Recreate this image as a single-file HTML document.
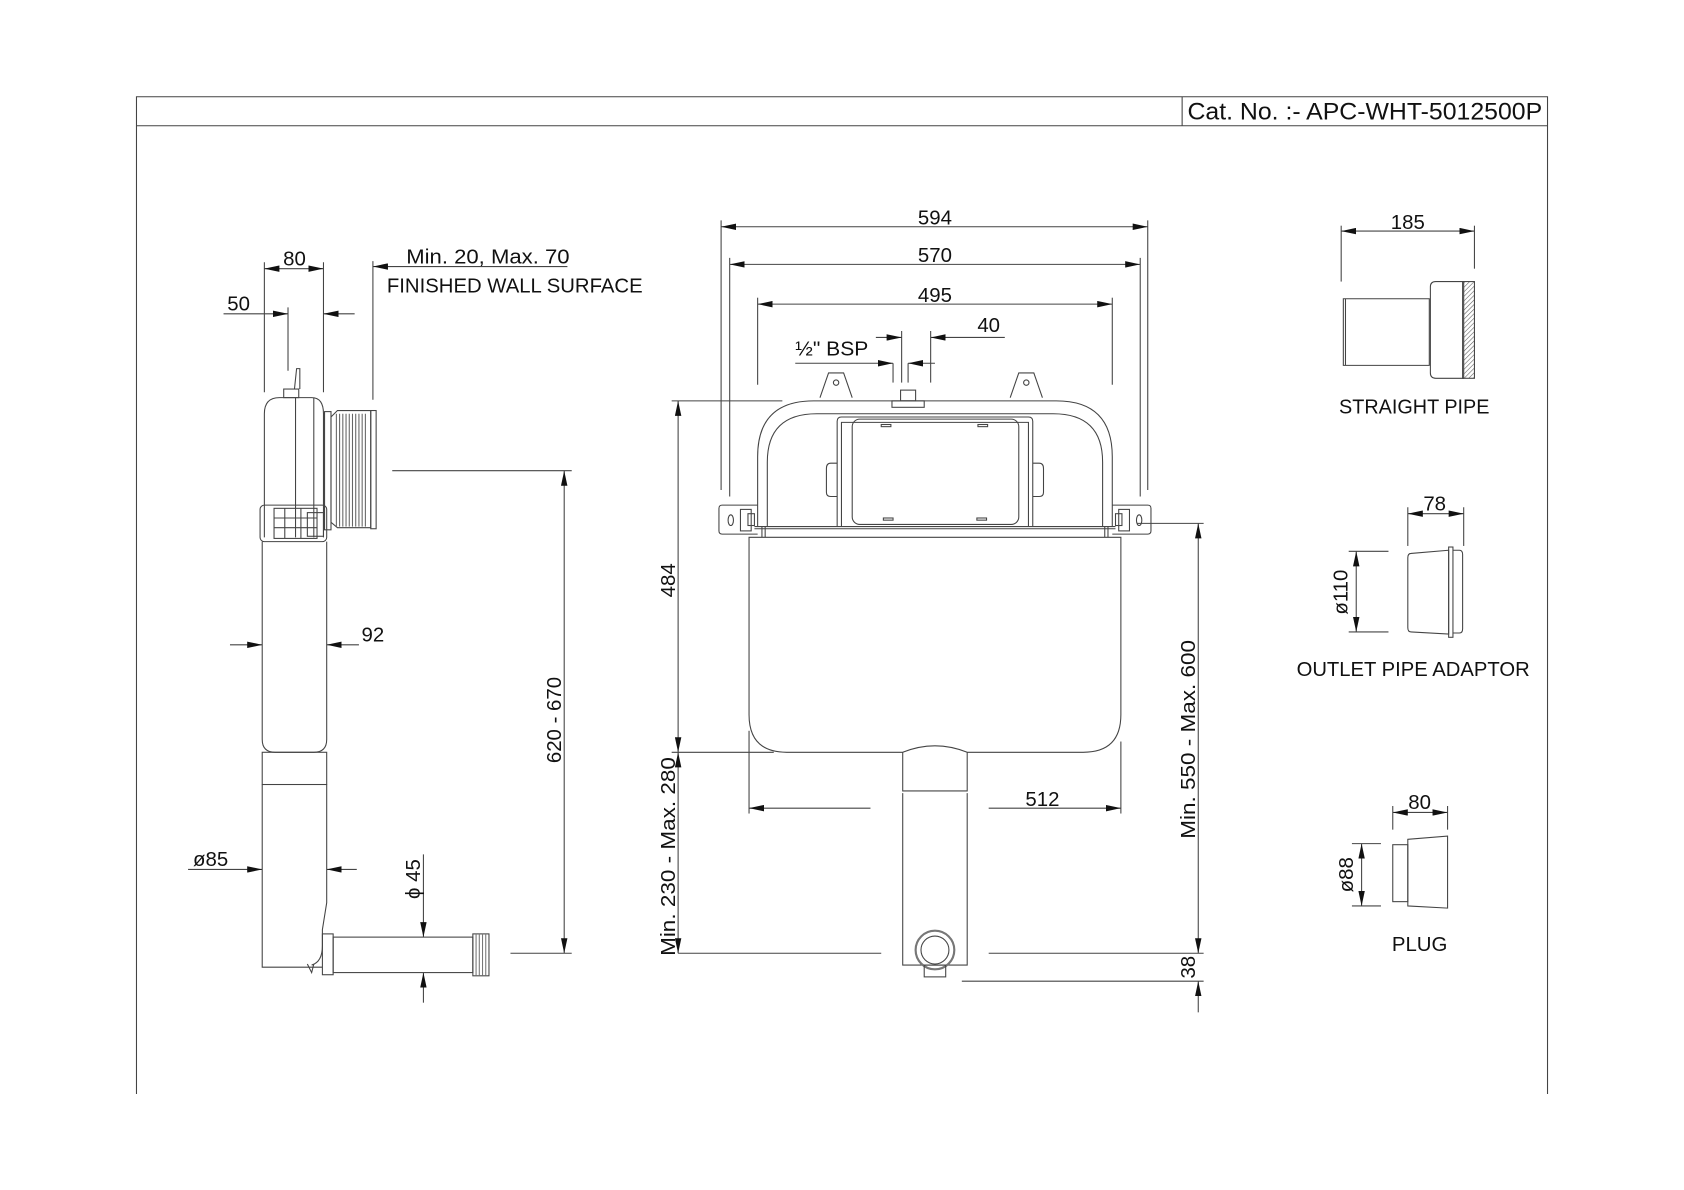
<!DOCTYPE html>
<html><head><meta charset="utf-8"><style>
html,body{margin:0;padding:0;background:#fff;}
svg{display:block;}
text{font-family:"Liberation Sans",sans-serif;fill:#111;}
</style></head><body>
<svg width="1684" height="1190" viewBox="0 0 1567 1107.3" xmlns="http://www.w3.org/2000/svg">
<defs>
<marker id="a" viewBox="0 0 14 6" refX="14" refY="3" markerWidth="14" markerHeight="6" markerUnits="userSpaceOnUse" orient="auto-start-reverse"><path d="M0,0 L14,3 L0,6 z" fill="#111"/></marker>
<pattern id="h" width="3" height="3" patternUnits="userSpaceOnUse" patternTransform="rotate(45)"><line x1="0" y1="0" x2="0" y2="3" stroke="#555" stroke-width="1"/></pattern>
</defs>
<g fill="none" stroke="#444" stroke-width="1">
<path d="M127,1018 V90 H1440 V1018"/>
<line x1="127" y1="117" x2="1440" y2="117"/>
<line x1="1100" y1="90" x2="1100" y2="117"/>

<line x1="246" y1="244" x2="246" y2="365"/>
<line x1="301" y1="244" x2="301" y2="365"/>
<line x1="268" y1="286" x2="268" y2="345"/>
<line x1="347" y1="243" x2="347" y2="372"/>
<line x1="246" y1="250" x2="301" y2="250" marker-start="url(#a)" marker-end="url(#a)"/>
<line x1="208" y1="292" x2="268" y2="292" marker-end="url(#a)"/>
<line x1="330" y1="292" x2="301" y2="292" marker-end="url(#a)"/>
<line x1="528" y1="248" x2="347" y2="248" marker-end="url(#a)"/>
<path d="M246,500 V385 Q246,370 260,370 H290 Q301,370 301,385 V500"/>
<line x1="275" y1="370" x2="275" y2="500"/>
<line x1="292" y1="370" x2="292" y2="500"/>
<rect x="264" y="362" width="14" height="8"/>
<path d="M274,362 L276,343 L279,343 L279,362"/>
<rect x="302" y="383" width="6" height="110"/>
<path d="M308,388 L314,382 H345 V491 H314 L308,486 z"/>
<g stroke="#666">
<line x1="313" y1="385" x2="313" y2="490"/><line x1="316" y1="385" x2="316" y2="490"/><line x1="319" y1="385" x2="319" y2="490"/><line x1="322" y1="385" x2="322" y2="490"/><line x1="325" y1="385" x2="325" y2="490"/><line x1="328" y1="385" x2="328" y2="490"/><line x1="331" y1="385" x2="331" y2="490"/><line x1="334" y1="385" x2="334" y2="490"/><line x1="337" y1="385" x2="337" y2="490"/><line x1="340" y1="385" x2="340" y2="490"/>
</g>
<rect x="345" y="382" width="5" height="110"/>
<rect x="242" y="470" width="62" height="34" rx="4"/>
<rect x="255" y="473" width="40" height="28"/>
<line x1="255" y1="482" x2="295" y2="482"/><line x1="255" y1="491" x2="295" y2="491"/>
<line x1="265" y1="473" x2="265" y2="501"/><line x1="280" y1="473" x2="280" y2="501"/>
<rect x="286" y="477" width="15" height="22"/>
<path d="M244,504 V688 Q244,700 256,700 H292 Q304,700 304,688 V504"/>
<rect x="244" y="700" width="60" height="30"/>
<path d="M244,730 V900 H300"/>
<path d="M304,730 V840 L300,865 V880 Q300,895 290,898"/>
<path d="M286,897 L290,905 L292,897"/>
<rect x="300" y="869" width="10" height="38"/>
<rect x="310" y="872" width="130" height="33"/>
<rect x="440" y="869" width="15" height="39"/>
<g stroke="#777"><line x1="443" y1="869" x2="443" y2="908"/><line x1="446" y1="869" x2="446" y2="908"/><line x1="449" y1="869" x2="449" y2="908"/><line x1="452" y1="869" x2="452" y2="908"/></g>
<line x1="214" y1="600" x2="244" y2="600" marker-end="url(#a)"/>
<line x1="334" y1="600" x2="304" y2="600" marker-end="url(#a)"/>
<line x1="175" y1="809" x2="244" y2="809" marker-end="url(#a)"/>
<line x1="332" y1="809" x2="304" y2="809" marker-end="url(#a)"/>
<line x1="394" y1="795" x2="394" y2="872" marker-end="url(#a)"/>
<line x1="394" y1="933" x2="394" y2="905" marker-end="url(#a)"/>
<line x1="365" y1="438" x2="532" y2="438"/>
<line x1="475" y1="887" x2="532" y2="887"/>
<line x1="525" y1="438" x2="525" y2="887" marker-start="url(#a)" marker-end="url(#a)"/>

<line x1="671" y1="205" x2="671" y2="456"/>
<line x1="1068" y1="205" x2="1068" y2="456"/>
<line x1="679" y1="240" x2="679" y2="462"/>
<line x1="1061" y1="240" x2="1061" y2="462"/>
<line x1="705" y1="277" x2="705" y2="358"/>
<line x1="1035" y1="277" x2="1035" y2="358"/>
<line x1="671" y1="211" x2="1068" y2="211" marker-start="url(#a)" marker-end="url(#a)"/>
<line x1="679" y1="246" x2="1061" y2="246" marker-start="url(#a)" marker-end="url(#a)"/>
<line x1="705" y1="283" x2="1035" y2="283" marker-start="url(#a)" marker-end="url(#a)"/>
<line x1="839" y1="308" x2="839" y2="356"/>
<line x1="866" y1="308" x2="866" y2="356"/>
<line x1="831" y1="338" x2="831" y2="356"/>
<line x1="845" y1="338" x2="845" y2="356"/>
<line x1="815" y1="314" x2="839" y2="314" marker-end="url(#a)"/>
<line x1="935" y1="314" x2="866" y2="314" marker-end="url(#a)"/>
<line x1="740" y1="338" x2="831" y2="338" marker-end="url(#a)"/>
<line x1="870" y1="338" x2="845" y2="338" marker-end="url(#a)"/>
<path d="M763,370 L771,347 H785 L793,370"/>
<circle cx="778" cy="356" r="2.5"/>
<path d="M940,370 L948,347 H962 L970,370"/>
<circle cx="955" cy="356" r="2.5"/>
<rect x="838" y="363" width="14" height="10"/>
<rect x="830" y="373" width="30" height="6"/>
<path d="M705,490 V425 Q705,373 757,373 H983 Q1035,373 1035,425 V490"/>
<path d="M714,490 V430 Q714,385 760,385 H980 Q1026,385 1026,430 V490"/>
<path d="M779,490 V392 Q779,388 783,388 H957 Q961,388 961,392 V490"/>
<path d="M783,490 V393 H957 V490"/>
<rect x="793" y="390" width="155" height="98" rx="7"/>
<rect x="820" y="395" width="9" height="2"/><rect x="910" y="395" width="9" height="2"/>
<rect x="822" y="482" width="9" height="2"/><rect x="909" y="482" width="9" height="2"/>
<path d="M779,431 H773 Q769,431 769,436 V458 Q769,462 773,462 H779"/>
<path d="M961,431 H967 Q971,431 971,436 V458 Q971,462 967,462 H961"/>
<path d="M705,470 H672 Q669,470 669,473 V494 Q669,497 672,497 H705"/>
<ellipse cx="680" cy="484" rx="2.5" ry="5"/>
<rect x="689" y="474" width="10" height="20"/><rect x="696" y="478" width="6" height="11"/>
<path d="M1035,470 H1068 Q1071,470 1071,473 V494 Q1071,497 1068,497 H1035"/>
<ellipse cx="1060" cy="484" rx="2.5" ry="5"/>
<rect x="1041" y="474" width="10" height="20"/><rect x="1038" y="478" width="6" height="11"/>
<path d="M702,490 H1038 M702,492 H1038"/>
<line x1="709" y1="490" x2="709" y2="500"/><line x1="712" y1="490" x2="712" y2="500"/>
<line x1="1028" y1="490" x2="1028" y2="500"/><line x1="1031" y1="490" x2="1031" y2="500"/>
<path d="M697,500 H1043 V665 Q1043,700 1008,700 H900 Q885,694 870,694 Q855,694 840,700 H732 Q697,700 697,665 Z"/>
<path d="M840,700 V736 H900 V700"/>
<path d="M840,738 V898 H900 V738"/>
<circle cx="870" cy="884" r="18" stroke="#777" stroke-width="2"/>
<circle cx="870" cy="884" r="13"/>
<rect x="860" y="898" width="20" height="11"/>
<line x1="625" y1="373" x2="728" y2="373"/>
<line x1="631" y1="373" x2="631" y2="700" marker-start="url(#a)" marker-end="url(#a)"/>
<line x1="625" y1="700" x2="720" y2="700"/>
<line x1="631" y1="700" x2="631" y2="887" marker-start="url(#a)" marker-end="url(#a)"/>
<line x1="631" y1="887" x2="820" y2="887"/>
<line x1="697" y1="680" x2="697" y2="757"/>
<line x1="1043" y1="690" x2="1043" y2="757"/>
<line x1="810" y1="752" x2="697" y2="752" marker-end="url(#a)"/>
<line x1="920" y1="752" x2="1043" y2="752" marker-end="url(#a)"/>
<line x1="1058" y1="487" x2="1120" y2="487"/>
<line x1="1115" y1="487" x2="1115" y2="887" marker-start="url(#a)" marker-end="url(#a)"/>
<line x1="920" y1="887" x2="1120" y2="887"/>
<line x1="895" y1="913" x2="1120" y2="913"/>
<line x1="1115" y1="942" x2="1115" y2="913" marker-end="url(#a)"/>

<line x1="1248" y1="210" x2="1248" y2="262"/>
<line x1="1372" y1="210" x2="1372" y2="250"/>
<line x1="1248" y1="215" x2="1372" y2="215" marker-start="url(#a)" marker-end="url(#a)"/>
<path d="M1250,278 H1330 V340 H1250 Z"/>
<line x1="1252" y1="278" x2="1252" y2="340"/>
<path d="M1331,278 V267 Q1331,262 1336,262 H1362 V352 H1336 Q1331,352 1331,347 Z"/>
<rect x="1361" y="262" width="11" height="90" fill="url(#h)"/>
<line x1="1310" y1="472" x2="1310" y2="508"/>
<line x1="1362" y1="472" x2="1362" y2="508"/>
<line x1="1310" y1="478" x2="1362" y2="478" marker-start="url(#a)" marker-end="url(#a)"/>
<path d="M1348,512 L1313,515 Q1310,515 1310,519 V584 Q1310,588 1313,588 L1348,590 Z"/>
<rect x="1348" y="509" width="4" height="84"/>
<path d="M1352,512 H1358 Q1361,512 1361,516 V585 Q1361,589 1358,589 H1352"/>
<line x1="1255" y1="513" x2="1292" y2="513"/>
<line x1="1255" y1="588" x2="1292" y2="588"/>
<line x1="1262" y1="513" x2="1262" y2="588" marker-start="url(#a)" marker-end="url(#a)"/>
<line x1="1296" y1="750" x2="1296" y2="772"/>
<line x1="1347" y1="750" x2="1347" y2="772"/>
<line x1="1296" y1="756" x2="1347" y2="756" marker-start="url(#a)" marker-end="url(#a)"/>
<rect x="1296" y="786" width="14" height="53"/>
<path d="M1310,781 L1347,778 V845 L1310,843 Z"/>
<line x1="1258" y1="785" x2="1285" y2="785"/>
<line x1="1258" y1="843" x2="1285" y2="843"/>
<line x1="1267" y1="785" x2="1267" y2="843" marker-start="url(#a)" marker-end="url(#a)"/>
</g>

<g font-size="19">
<text x="1105" y="111" font-size="22" textLength="330" lengthAdjust="spacingAndGlyphs">Cat. No. :- APC-WHT-5012500P</text>
<text x="274" y="247" text-anchor="middle">80</text>
<text x="222" y="289" text-anchor="middle">50</text>
<text x="378" y="245" textLength="152" lengthAdjust="spacingAndGlyphs">Min. 20, Max. 70</text>
<text x="360" y="272" textLength="238" lengthAdjust="spacingAndGlyphs">FINISHED WALL SURFACE</text>
<text x="347" y="597" text-anchor="middle">92</text>
<text x="196" y="806" text-anchor="middle">ø85</text>
<text transform="translate(391,818) rotate(-90)" text-anchor="middle">ϕ 45</text>
<text transform="translate(522,670) rotate(-90)" text-anchor="middle">620 - 670</text>
<text x="870" y="209" text-anchor="middle">594</text>
<text x="870" y="244" text-anchor="middle">570</text>
<text x="870" y="281" text-anchor="middle">495</text>
<text x="920" y="309" text-anchor="middle">40</text>
<text x="740" y="331" textLength="68" lengthAdjust="spacingAndGlyphs">½" BSP</text>
<text transform="translate(628,540) rotate(-90)" text-anchor="middle">484</text>
<text transform="translate(628,797) rotate(-90)" text-anchor="middle" textLength="185" lengthAdjust="spacingAndGlyphs">Min. 230 - Max. 280</text>
<text x="970" y="750" text-anchor="middle">512</text>
<text transform="translate(1112,688) rotate(-90)" text-anchor="middle" textLength="185" lengthAdjust="spacingAndGlyphs">Min. 550 - Max. 600</text>
<text transform="translate(1112,900) rotate(-90)" text-anchor="middle">38</text>
<text x="1310" y="213" text-anchor="middle">185</text>
<text x="1316" y="385" text-anchor="middle" textLength="140" lengthAdjust="spacingAndGlyphs">STRAIGHT PIPE</text>
<text x="1335" y="475" text-anchor="middle">78</text>
<text transform="translate(1254,551) rotate(-90)" text-anchor="middle">ø110</text>
<text x="1315" y="629" text-anchor="middle" textLength="217" lengthAdjust="spacingAndGlyphs">OUTLET PIPE ADAPTOR</text>
<text x="1321" y="753" text-anchor="middle">80</text>
<text transform="translate(1259,814) rotate(-90)" text-anchor="middle">ø88</text>
<text x="1321" y="885" text-anchor="middle">PLUG</text>
</g>
</svg>
</body></html>
